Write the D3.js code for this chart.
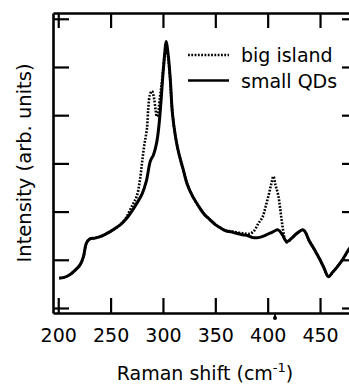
<!DOCTYPE html>
<html>
<head>
<meta charset="utf-8">
<script src="https://cdn.jsdelivr.net/npm/d3@7"></script>
<style>
  body { margin: 0; background: #fff; }
  text { font-family: "DejaVu Sans", sans-serif; fill: #000; }
</style>
</head>
<body>
<div id="my_dataviz"></div>
<script>
// data
const smallQDsShift = [201, 205, 211, 216, 221, 224, 227, 230, 235, 240, 245, 250, 255, 260, 265, 270, 275, 280, 284, 288, 291, 294, 296, 298, 300, 302, 303, 305, 307, 309, 312, 315, 319, 323, 328, 335, 340, 345, 350, 355, 360, 365, 370, 376, 381, 386, 391, 396, 400, 405, 410, 414, 418, 423, 428, 434, 440, 445, 450, 454, 458, 462, 467, 472, 477, 482, 485]
const smallQDs = [0.62, 0.63, 0.69, 0.78, 0.90, 1.06, 1.35, 1.43, 1.45, 1.48, 1.53, 1.59, 1.66, 1.74, 1.85, 2.00, 2.17, 2.36, 2.62, 3.05, 3.18, 3.43, 3.75, 4.25, 4.85, 5.35, 5.53, 5.25, 4.75, 4.05, 3.55, 3.22, 2.90, 2.58, 2.33, 2.08, 1.93, 1.83, 1.73, 1.66, 1.60, 1.58, 1.55, 1.52, 1.50, 1.46, 1.46, 1.49, 1.53, 1.58, 1.62, 1.52, 1.38, 1.45, 1.55, 1.62, 1.38, 1.20, 1.00, 0.82, 0.65, 0.74, 0.87, 1.02, 1.20, 1.35, 1.42]

const bigIslandShift = [201, 205, 211, 216, 221, 224, 227, 230, 235, 240, 245, 250, 255, 260, 265, 270, 275, 278, 280, 282, 284.7, 286, 287.5, 289.5, 291.5, 293, 294.2, 295.5, 297, 298.5, 300, 302, 303, 305, 307, 309, 312, 315, 319, 323, 328, 335, 340, 345, 350, 355, 360, 365, 370, 376, 380, 383, 387, 391, 395, 398, 401, 403.5, 405.5, 407.5, 410, 412, 414, 416.5, 418.5, 423, 428, 434, 440, 445, 450, 454, 458, 462, 467, 472, 477, 482, 485]
const bigIsland = [0.62, 0.63, 0.69, 0.78, 0.90, 1.06, 1.35, 1.43, 1.45, 1.48, 1.53, 1.59, 1.66, 1.74, 1.88, 2.10, 2.32, 2.65, 3.01, 3.35, 3.72, 4.15, 4.42, 4.50, 4.35, 4.10, 3.97, 4.05, 4.35, 4.60, 4.90, 5.30, 5.45, 5.20, 4.70, 4.05, 3.55, 3.22, 2.90, 2.58, 2.33, 2.08, 1.93, 1.83, 1.73, 1.66, 1.61, 1.59, 1.57, 1.55, 1.54, 1.54, 1.60, 1.75, 1.88, 2.10, 2.35, 2.58, 2.73, 2.55, 2.35, 2.05, 1.72, 1.42, 1.36, 1.45, 1.55, 1.62, 1.38, 1.20, 1.00, 0.82, 0.65, 0.74, 0.87, 1.02, 1.20, 1.35, 1.42]

const xTicks = [200, 250, 300, 350, 400, 450]
const yTicks = [0, 1, 2, 3, 4, 5, 6]
const seriesNames = ["big island", "small QDs"]

// dimensions: the right side of the frame runs off the picture
const width = 349
const height = 387
const margin = { top: 13, bottom: 74, left: 53, right: -8 }
const innerW = width - margin.left - margin.right
const innerH = height - margin.top - margin.bottom

var svg = d3.select("#my_dataviz")
  .append("svg")
    .attr("width", width)
    .attr("height", height)
  .append("g")
    .attr("transform", "translate(" + margin.left + "," + margin.top + ")")

var x = d3.scaleLinear().domain([195, 485.3]).range([0, innerW])
var y = d3.scaleLinear().domain([-0.104, 6.12]).range([innerH, 0])

var clip = svg.append("clipPath").attr("id", "plotclip")
clip.append("rect").attr("width", innerW).attr("height", innerH)

// axes, ticks pointing inward
var bottom = svg.append("g")
  .attr("transform", "translate(0," + innerH + ")")
  .call(d3.axisBottom(x).tickValues(xTicks).tickSizeInner(-15).tickSizeOuter(0).tickPadding(15.5))
var top = svg.append("g")
  .call(d3.axisTop(x).tickValues(xTicks).tickSizeInner(-15).tickSizeOuter(0).tickFormat(""))
var left = svg.append("g")
  .call(d3.axisLeft(y).tickValues(yTicks).tickSizeInner(-16).tickSizeOuter(0).tickFormat(""))
var right = svg.append("g")
  .attr("transform", "translate(" + innerW + ",0)")
  .call(d3.axisRight(y).tickValues(yTicks).tickSizeInner(-15).tickSizeOuter(0).tickFormat(""))

svg.selectAll(".domain").attr("stroke", "#000").attr("stroke-width", 2.6)
svg.selectAll(".tick line").attr("stroke", "#000").attr("stroke-width", 2.2)
bottom.selectAll(".tick text")
  .style("font-size", "19px")
  .style("font-family", "DejaVu Sans")

// small marker under the axis near 405
svg.append("line")
  .attr("x1", x(407)).attr("x2", x(407))
  .attr("y1", innerH).attr("y2", innerH + 6)
  .attr("stroke", "#000").attr("stroke-width", 2)
svg.append("circle")
  .attr("cx", x(407)).attr("cy", innerH + 5).attr("r", 2)

var line = d3.line()
  .x(function(d) { return x(d[0]) })
  .y(function(d) { return y(d[1]) })
  .curve(d3.curveCatmullRom)

// dotted series first, solid on top
svg.append("path")
  .datum(d3.zip(bigIslandShift, bigIsland))
  .attr("clip-path", "url(#plotclip)")
  .attr("fill", "none")
  .attr("stroke", "#000")
  .attr("stroke-width", 2.6)
  .attr("stroke-dasharray", "1.8,1.5")
  .attr("d", line)

svg.append("path")
  .datum(d3.zip(smallQDsShift, smallQDs))
  .attr("clip-path", "url(#plotclip)")
  .attr("fill", "none")
  .attr("stroke", "#000")
  .attr("stroke-width", 3)
  .attr("stroke-linejoin", "round")
  .attr("d", line)

// legend
var legend = svg.append("g").attr("transform", "translate(" + (188 - margin.left) + "," + (42 - margin.top) + ")")
seriesNames.forEach(function(name, i) {
  var g = legend.append("g").attr("transform", "translate(0," + (i * 25.5) + ")")
  g.append("line")
    .attr("x1", 0).attr("x2", 41)
    .attr("y1", 13).attr("y2", 13)
    .attr("stroke", "#000")
    .attr("stroke-width", 2.6)
    .attr("stroke-dasharray", i == 0 ? "1.8,1.5" : null)
  g.append("text")
    .attr("x", 53)
    .attr("y", 20)
    .style("font-size", "19px")
    .text(name)
})

// axis titles
var xt = svg.append("text")
  .attr("text-anchor", "middle")
  .attr("x", innerW / 2)
  .attr("y", 380 - margin.top)
  .style("font-size", "19px")
xt.append("tspan").text("Raman shift (cm")
xt.append("tspan").attr("dy", -8).style("font-size", "13px").text("-1")
xt.append("tspan").attr("dy", 8).text(")")

svg.append("text")
  .attr("text-anchor", "middle")
  .attr("transform", "translate(" + (31 - margin.left) + "," + (innerH / 2) + ") rotate(-90)")
  .style("font-size", "19.5px")
  .text("Intensity (arb. units)")
</script>
</body>
</html>
